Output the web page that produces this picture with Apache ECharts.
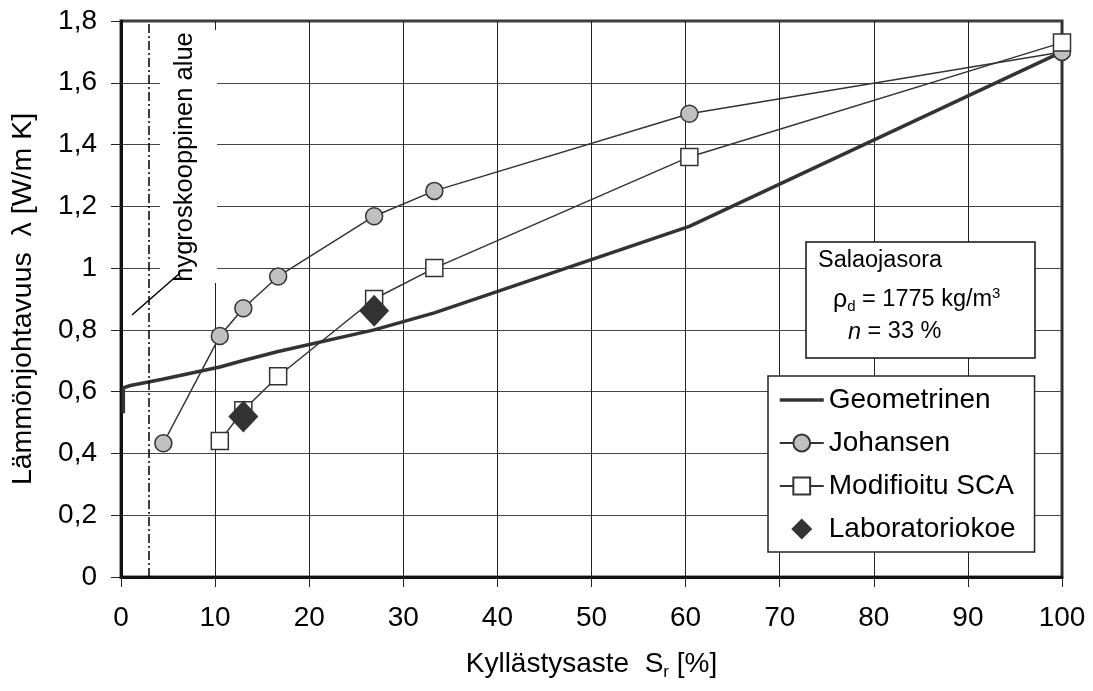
<!DOCTYPE html>
<html><head><meta charset="utf-8">
<script src="https://cdn.jsdelivr.net/npm/echarts@6/dist/echarts.min.js"></script>
<style>html,body{margin:0;padding:0;background:#fff}#c{width:1093px;height:691px}</style>
</head><body><div id="c"></div>
<script>
const FONT = "'Liberation Sans', Arial, sans-serif";
const seriesNames = ['Geometrinen', 'Johansen', 'Modifioitu SCA', 'Laboratoriokoe'];
const geomX = [0.25, 0.25, 1, 4.4, 10.5, 12.9, 16.7, 26.9, 33.3, 60.4, 100];
const geomY = [0.53, 0.612, 0.62, 0.64, 0.68, 0.70, 0.73, 0.80, 0.855, 1.135, 1.70];
const johX = [4.5, 10.5, 13.0, 16.7, 26.9, 33.3, 60.4, 100];
const johY = [0.433, 0.78, 0.87, 0.973, 1.168, 1.25, 1.50, 1.70];
const scaX = [10.5, 13.0, 16.7, 26.9, 33.3, 60.4, 100];
const scaY = [0.44, 0.54, 0.65, 0.90, 1.00, 1.36, 1.73];
const labX = [13.0, 26.9];
const labY = [0.52, 0.862];
const hygroX = 3;
const xName = 'Kyllästysaste  S{sub|r} [%]';
const yName = 'Lämmönjohtavuus  λ [W/m K]';
const hygroLabel = 'hygroskooppinen alue';
const boxTitle = 'Salaojasora';

const zip = (xs, ys) => xs.map((x, i) => [x, ys[i]]);
const chart = echarts.init(document.getElementById('c'), null, {renderer: 'canvas'});
const option = {
  animation: false,
  backgroundColor: '#fff',
  textStyle: {fontFamily: FONT},
  grid: {left: 121, right: 31, top: 21, bottom: 114, show: true, borderColor: '#3a3a3a', borderWidth: 3, backgroundColor: '#fff'},
  legend: {
    orient: 'vertical', left: 768, top: 376, padding: [10, 19, 9, 10], itemGap: 15,
    itemWidth: 44, itemHeight: 21, backgroundColor: '#fff', borderColor: '#222', borderWidth: 1.5,
    textStyle: {fontSize: 28, color: '#000', fontFamily: FONT},
    data: [
      {name: seriesNames[0], itemStyle: {opacity: 0}, lineStyle: {width: 3.5, color: '#333'}},
      {name: seriesNames[1]},
      {name: seriesNames[2]},
      {name: seriesNames[3], icon: 'path://M8,0 L16,8 L8,16 L0,8 Z'}
    ]
  },
  xAxis: {
    type: 'value', min: 0, max: 100, interval: 10,
    axisLine: {show: true, lineStyle: {color: '#111', width: 3}},
    axisTick: {show: true, length: 10, lineStyle: {color: '#222', width: 1}},
    axisLabel: {fontSize: 28, color: '#000', margin: 27, fontFamily: FONT},
    splitLine: {show: true, lineStyle: {color: '#222', width: 1}},
    name: xName, nameLocation: 'middle', nameGap: 70,
    nameTextStyle: {fontSize: 28, color: '#000', fontFamily: FONT,
      rich: {sub: {fontSize: 17, verticalAlign: 'bottom', lineHeight: 34, fontFamily: FONT}}}
  },
  yAxis: {
    type: 'value', min: 0, max: 1.8, interval: 0.2,
    axisLine: {show: true, lineStyle: {color: '#111', width: 3}},
    axisTick: {show: true, length: 10, lineStyle: {color: '#222', width: 1}},
    axisLabel: {fontSize: 28, color: '#000', margin: 24, fontFamily: FONT,
      formatter: v => String(Math.round(v * 10) / 10).replace('.', ',')},
    splitLine: {show: true, lineStyle: {color: '#444', width: 1}},
    name: yName, nameLocation: 'middle', nameRotate: 90, nameGap: 83,
    nameTextStyle: {fontSize: 28.5, color: '#000', fontFamily: FONT}
  },
  series: [
    {
      name: seriesNames[0], type: 'line', data: zip(geomX, geomY), symbol: 'none', showSymbol: false,
      lineStyle: {width: 3.5, color: '#333'}, itemStyle: {color: '#333'}, z: 2,
      markLine: {silent: true, symbol: ['none', 'none'], label: {show: false},
        lineStyle: {type: [9, 3, 2, 3], color: '#000', width: 1.5}, data: [{xAxis: hygroX}]}
    },
    {
      name: seriesNames[1], type: 'line', data: zip(johX, johY), symbol: 'circle', symbolSize: 17,
      lineStyle: {width: 1.5, color: '#333'},
      itemStyle: {color: '#c0c0c0', borderColor: '#333', borderWidth: 1.5}, z: 3
    },
    {
      name: seriesNames[2], type: 'line', data: zip(scaX, scaY), symbol: 'rect', symbolSize: 17,
      lineStyle: {width: 1.5, color: '#333'},
      itemStyle: {color: '#fff', borderColor: '#333', borderWidth: 1.5}, z: 4
    },
    {
      name: seriesNames[3], type: 'scatter', data: zip(labX, labY), symbol: 'diamond', symbolSize: [30, 32],
      itemStyle: {color: '#333', opacity: 1}, z: 5
    }
  ],
  graphic: [
    {type: 'rect', z: 100, shape: {x: 160, y: 30, width: 57, height: 253}, style: {fill: '#fff'}},
    {type: 'text', z: 101, x: 185, y: 157, rotation: Math.PI / 2,
      style: {text: hygroLabel, fontSize: 25.5, fontFamily: FONT, fill: '#000', align: 'center', verticalAlign: 'middle'}},
    {type: 'line', z: 101, shape: {x1: 132, y1: 315, x2: 180, y2: 273}, style: {stroke: '#000', lineWidth: 1.5}},
    {type: 'rect', z: 100, shape: {x: 806, y: 242, width: 229, height: 116}, style: {fill: '#fff', stroke: '#111', lineWidth: 1.5}},
    {type: 'text', z: 101, x: 818, y: 261,
      style: {text: boxTitle, fontSize: 23.5, fontFamily: FONT, fill: '#000', verticalAlign: 'middle'}},
    {type: 'text', z: 101, x: 833, y: 300,
      style: {text: '{r|ρ}{d|d}{t| = 1775 kg/m}{s|3}', fill: '#000', verticalAlign: 'middle',
        rich: {
          r: {fontSize: 25, fontFamily: FONT, lineHeight: 28, verticalAlign: 'middle'},
          d: {fontSize: 15, fontFamily: FONT, lineHeight: 15, verticalAlign: 'bottom'},
          t: {fontSize: 23.5, fontFamily: FONT, lineHeight: 28, verticalAlign: 'middle'},
          s: {fontSize: 15, fontFamily: FONT, lineHeight: 15, verticalAlign: 'top'}
        }}},
    {type: 'text', z: 101, x: 848, y: 332,
      style: {text: '{i|n}{t| = 33 %}', fill: '#000', verticalAlign: 'middle',
        rich: {
          i: {fontSize: 23.5, fontFamily: FONT, fontStyle: 'italic'},
          t: {fontSize: 23.5, fontFamily: FONT}
        }}}
  ]
};
chart.setOption(option);
</script>
</body></html>
